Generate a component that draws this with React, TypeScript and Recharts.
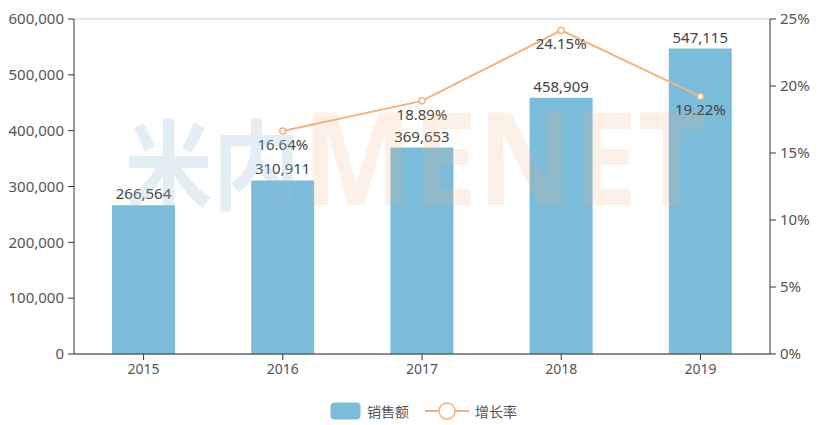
import React from "react"
import { ComposedChart, Bar, Line, XAxis, YAxis, CartesianGrid, Legend, LabelList } from "recharts"

const years = ["2015", "2016", "2017", "2018", "2019"]
const sales = [266564, 310911, 369653, 458909, 547115]
const growth = [null, 16.64, 18.89, 24.15, 19.22]
const leftTicks = [0, 100000, 200000, 300000, 400000, 500000, 600000]
const rightTicks = [0, 5, 10, 15, 20, 25]

const data = years.map((year, i) => ({ year, sales: sales[i], growth: growth[i] }))

const BAR = "#7bbcdb"
const LINE = "#f4b27c"
const FONT = "'Noto Sans', 'Noto Sans CJK SC', sans-serif"

const fmt = (v: number) => v.toLocaleString("en-US")

const GrowthLabel = (props: any) => {
  const { x, y, value } = props
  if (value == null) return null
  return (
    <text x={x} y={y + 19} textAnchor="middle" fill="#444" fontSize={15} fontFamily={FONT}>
      {value.toFixed(2)}%
    </text>
  )
}

// legend is centred on the plot area, not the whole chart
const LegendBox = () => (
  <div style={{ height: 41, display: "flex", justifyContent: "center", alignItems: "center", paddingTop: 12, paddingLeft: 24, boxSizing: "border-box", fontFamily: FONT, fontSize: 14, color: "#555" }}>
    <svg width={31} height={18} style={{ marginRight: 6 }}>
      <rect x={0.5} y={0.5} width={30} height={17} rx={4} fill={BAR} />
    </svg>
    <span style={{ marginRight: 16 }}>销售额</span>
    <svg width={44} height={18} style={{ marginRight: 6 }}>
      <line x1={0} y1={9} x2={44} y2={9} stroke={LINE} strokeWidth={2} />
      <circle cx={22} cy={9} r={8} fill="#fff" stroke={LINE} strokeWidth={1.5} />
    </svg>
    <span>增长率</span>
  </div>
)

export default function App() {
  return (
    <div style={{ position: "relative", width: 823, height: 425 }}>
      <style>{"body{margin:0}"}</style>
      <ComposedChart width={823} height={425} data={data} margin={{ top: 19, right: 0, bottom: 0, left: 0 }}>
        <CartesianGrid vertical={false} stroke="#d0d0d0" />
        <XAxis
          dataKey="year"
          height={30}
          stroke="#333"
          tick={{ fill: "#555", fontSize: 14, fontFamily: FONT }}
          tickSize={6}
          tickMargin={4}
        />
        <YAxis
          yAxisId="left"
          width={74}
          domain={[0, 600000]}
          ticks={leftTicks}
          tickFormatter={fmt}
          stroke="#333"
          tick={{ fill: "#555", fontSize: 15, fontFamily: FONT }}
          tickSize={6}
          tickMargin={4}
        />
        <YAxis
          yAxisId="right"
          orientation="right"
          width={53}
          domain={[0, 25]}
          ticks={rightTicks}
          tickFormatter={(v: number) => `${v}%`}
          stroke="#333"
          tick={{ fill: "#555", fontSize: 15, fontFamily: FONT }}
          tickSize={6}
          tickMargin={4}
        />
        <Legend verticalAlign="bottom" content={() => <LegendBox />} />
        <Bar yAxisId="left" dataKey="sales" fill={BAR} barSize={63} isAnimationActive={false}>
          <LabelList dataKey="sales" position="top" offset={6} formatter={(v: any) => fmt(v)} fill="#444" fontSize={15} fontFamily={FONT} />
        </Bar>
        <Line
          yAxisId="right"
          dataKey="growth"
          stroke={LINE}
          strokeWidth={2}
          dot={{ r: 3, fill: "#fff", stroke: LINE, strokeWidth: 1.5 }}
          isAnimationActive={false}
        >
          <LabelList dataKey="growth" content={<GrowthLabel />} />
        </Line>
      </ComposedChart>
      {/* watermark */}
      <svg width={823} height={425} style={{ position: "absolute", left: 0, top: 0, pointerEvents: "none" }}>
        <text x={125} y={202} fontSize={98} fontWeight={700} fontFamily="'Noto Sans CJK SC', sans-serif" textLength={175} lengthAdjust="spacingAndGlyphs" fill="rgba(150,190,215,0.28)">
          米内
        </text>
        <text x={302} y={205} fontSize={130} fontWeight={700} fontFamily="'Noto Sans', sans-serif" textLength={403} lengthAdjust="spacingAndGlyphs" fill="rgba(245,180,120,0.18)">
          MENET
        </text>
      </svg>
    </div>
  )
}
